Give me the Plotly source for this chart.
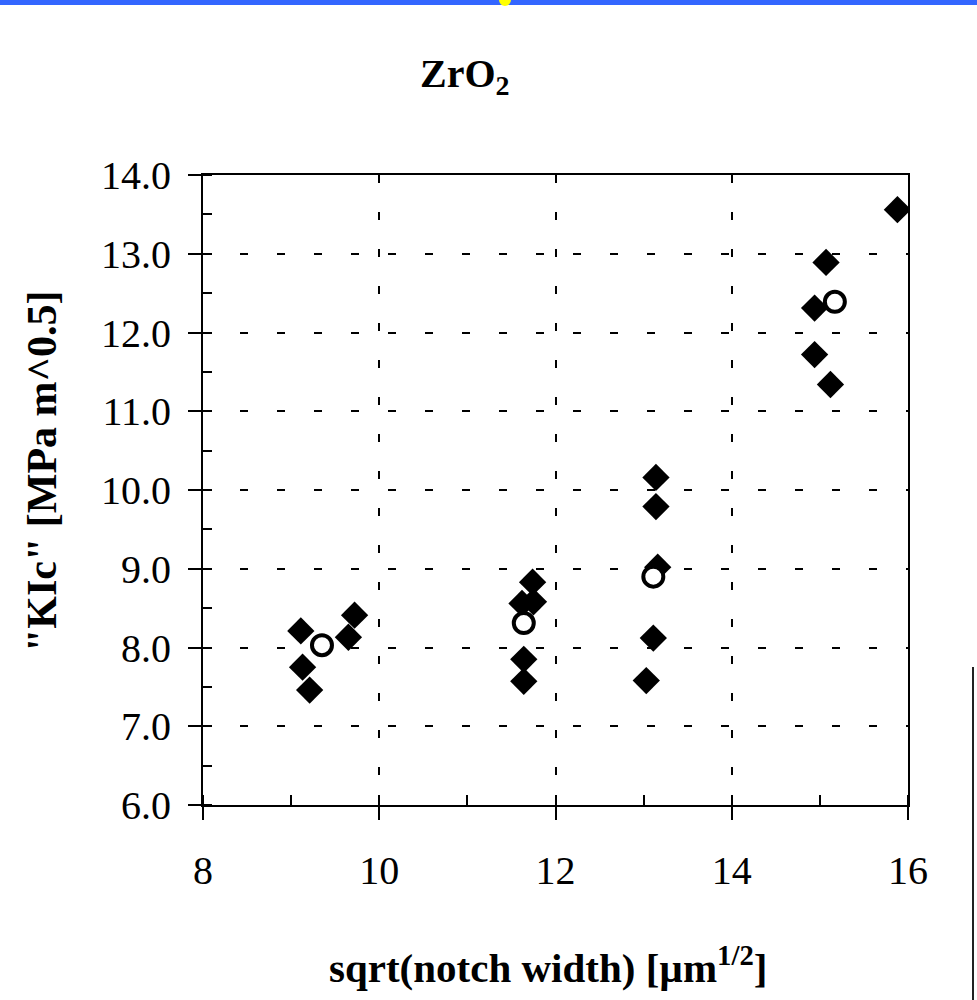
import plotly.graph_objects as go

# ---- data ----
filled_x = [9.11, 9.13, 9.21, 9.65, 9.72,
            11.74, 11.62, 11.75, 11.64, 11.64,
            13.14, 13.14, 13.16, 13.11, 13.03,
            15.88, 15.07, 14.94, 14.94, 15.12]
filled_y = [8.21, 7.75, 7.46, 8.13, 8.41,
            8.83, 8.56, 8.58, 7.85, 7.57,
            10.16, 9.79, 9.02, 8.12, 7.58,
            13.56, 12.89, 12.31, 11.72, 11.34]
open_x = [9.35, 11.64, 13.11, 15.17]
open_y = [8.03, 8.31, 8.90, 12.39]

x_ticks = [8, 10, 12, 14, 16]
y_ticks = [6, 7, 8, 9, 10, 11, 12, 13, 14]
y_tick_text = ["6.0", "7.0", "8.0", "9.0", "10.0", "11.0", "12.0", "13.0", "14.0"]

title_text = "<b>ZrO<sub>2</sub></b>"
x_title = "<b>sqrt(notch width) [µm<sup>1/2</sup>]</b>"
y_title = '<b>"KIc" [MPa m^0.5]</b>'

# ---- layout geometry (pixels) ----
W, H = 977, 1000
L, R, T, B = 203, 69, 175, 195
PW, PH = W - L - R, H - T - B


def px(xp):
    return (xp - L) / PW


def py(yp):
    return (H - B - yp) / PH


SERIF = "Liberation Serif, Times New Roman, serif"

fig = go.Figure()
fig.add_trace(go.Scatter(
    x=filled_x, y=filled_y, mode="markers",
    marker=dict(symbol="diamond", size=21, color="black",
                line=dict(width=0)),
    showlegend=False, hoverinfo="x+y"))
fig.add_trace(go.Scatter(
    x=open_x, y=open_y, mode="markers",
    marker=dict(symbol="circle", size=20, color="white",
                line=dict(width=4, color="black")),
    showlegend=False, hoverinfo="x+y"))
# dummy trace to activate the overlay axis used for inner tick halves
fig.add_trace(go.Scatter(x=[None], y=[None], yaxis="y2", showlegend=False,
                         hoverinfo="skip"))

fig.update_layout(
    width=W, height=H,
    margin=dict(l=L, r=R, t=T, b=B),
    paper_bgcolor="white", plot_bgcolor="white",
    font=dict(family=SERIF, color="black"),
    xaxis=dict(
        range=[8, 16], tickvals=x_ticks, ticktext=[str(v) for v in x_ticks],
        ticks="outside", ticklen=13, tickwidth=2, tickcolor="black",
        showline=True, linecolor="black", linewidth=2, mirror=True,
        showgrid=True, gridcolor="black", gridwidth=1.5, griddash="8px,29px",
        zeroline=False,
        tickfont=dict(family=SERIF, size=40, color="black"),
        ticklabelstandoff=16,
        minor=dict(dtick=1, tick0=8, ticks="inside", ticklen=10,
                   tickwidth=2, tickcolor="black", showgrid=False),
    ),
    yaxis=dict(
        range=[6, 14], tickvals=y_ticks, ticktext=y_tick_text,
        ticks="outside", ticklen=13, tickwidth=2, tickcolor="black",
        showline=True, linecolor="black", linewidth=2, mirror=True,
        showgrid=True, gridcolor="black", gridwidth=1.5, griddash="8px,29px",
        zeroline=False,
        tickfont=dict(family=SERIF, size=40, color="black"),
        ticklabelstandoff=9,
        minor=dict(dtick=0.5, tick0=6, ticks="inside", ticklen=9,
                   tickwidth=2, tickcolor="black", showgrid=False),
    ),
    yaxis2=dict(
        range=[6, 14], overlaying="y", side="left", anchor="x",
        tickvals=y_ticks, ticks="inside", ticklen=9, tickwidth=2,
        tickcolor="black", showticklabels=False, showgrid=False,
        showline=False, zeroline=False,
    ),
    annotations=[
        dict(text=title_text, x=px(465), y=py(76), xref="paper", yref="paper",
             xanchor="center", yanchor="middle", showarrow=False,
             font=dict(family=SERIF, size=40, color="black")),
        dict(text=x_title, x=px(548), y=py(965), xref="paper", yref="paper",
             xanchor="center", yanchor="middle", showarrow=False,
             font=dict(family=SERIF, size=41, color="black")),
        dict(text=y_title, x=px(42), y=py(472), xref="paper", yref="paper",
             xanchor="center", yanchor="middle", textangle=-90,
             showarrow=False,
             font=dict(family=SERIF, size=42, color="black")),
    ],
    shapes=[
        # blue band at the very top of the screenshot
        dict(type="rect", xref="paper", yref="paper",
             x0=px(0), x1=px(W), y0=py(5), y1=py(-2),
             fillcolor="#3366ff", line=dict(width=0), layer="above"),
        # small yellow dot on the band
        dict(type="circle", xref="paper", yref="paper",
             x0=px(499), x1=px(511), y0=py(6), y1=py(-6),
             fillcolor="#ffff00", line=dict(width=0), layer="above"),
        # vertical edge line at the right of the scan
        dict(type="line", xref="paper", yref="paper",
             x0=px(973), x1=px(973), y0=py(667), y1=py(1002),
             line=dict(color="#222222", width=2), layer="above"),
    ],
)

fig.write_html("out.html")
